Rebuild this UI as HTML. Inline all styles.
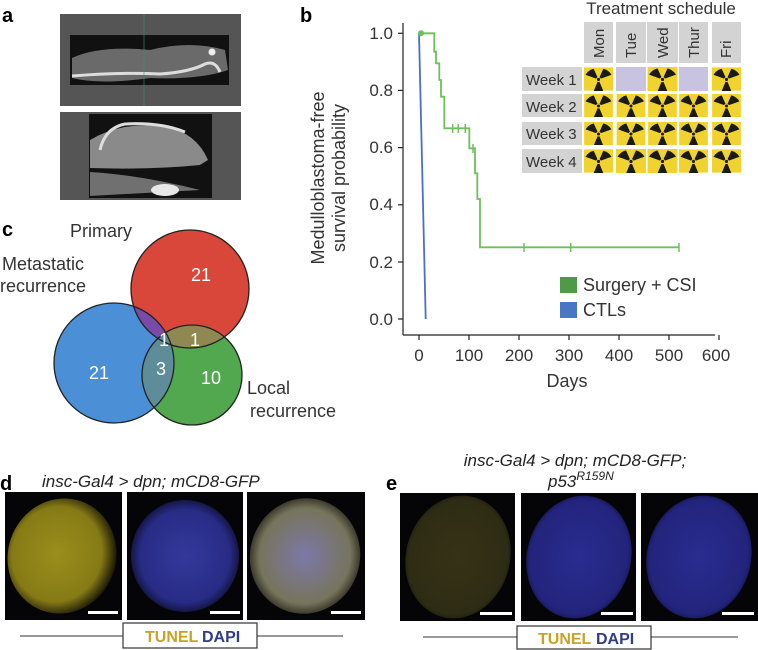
<!DOCTYPE html>
<html><head><meta charset="utf-8"><style>
html,body{margin:0;padding:0;background:#fff;}
svg{display:block;font-family:"Liberation Sans",Arial,sans-serif;}
</style></head><body>
<svg width="758" height="650" viewBox="0 0 758 650" xmlns="http://www.w3.org/2000/svg">
<defs>
<symbol id="rad" viewBox="0 0 30 24">
<rect width="30" height="24" fill="#f1d330"/>
<g transform="translate(15,12.5)" fill="#1a1a1a">
<path d="M0,0 L-13,-6 A14,14 0 0,1 -4,-11.5 Z" transform="rotate(-5)"/>
<path d="M0,0 L4,-11.5 A14,14 0 0,1 13,-6 Z" transform="rotate(5)"/>
<path d="M0,0 L-5,12 A13,13 0 0,0 5,12 Z"/>
<circle r="2.6" fill="#f1d330"/><circle r="1.6"/>
</g>
</symbol>
<clipPath id="cR"><circle cx="190" cy="289" r="59"/></clipPath>
<clipPath id="cB"><circle cx="114" cy="363" r="60"/></clipPath>
<clipPath id="cG"><circle cx="192" cy="375" r="50"/></clipPath>
<radialGradient id="gy" cx="45%" cy="50%" r="55%"><stop offset="0" stop-color="#9a8e1c"/><stop offset="0.75" stop-color="#867a16"/><stop offset="1" stop-color="#1a1806"/></radialGradient>
<radialGradient id="gb" cx="50%" cy="50%" r="55%"><stop offset="0" stop-color="#34389a"/><stop offset="0.75" stop-color="#282c86"/><stop offset="1" stop-color="#0a0a22"/></radialGradient>
<radialGradient id="gm" cx="50%" cy="50%" r="55%"><stop offset="0" stop-color="#7c78a8"/><stop offset="0.75" stop-color="#77745c"/><stop offset="1" stop-color="#1a1810"/></radialGradient>
<radialGradient id="gey" cx="50%" cy="50%" r="55%"><stop offset="0" stop-color="#363216"/><stop offset="0.85" stop-color="#2e2c14"/><stop offset="1" stop-color="#141408"/></radialGradient>
<radialGradient id="geb" cx="50%" cy="50%" r="55%"><stop offset="0" stop-color="#2a2c90"/><stop offset="0.85" stop-color="#22247c"/><stop offset="1" stop-color="#0c0c30"/></radialGradient>
</defs>

<!-- panel a -->
<text x="2" y="22" font-size="20" font-weight="bold">a</text>
<rect x="60" y="14" width="181" height="92" fill="#555"/>
<rect x="70" y="35" width="159" height="50" fill="#111"/>
<path d="M72,58 Q100,45 150,50 Q190,40 225,50 L228,70 Q200,80 150,78 Q100,85 72,78 Z" fill="#6a6a6a"/>
<path d="M72,76 Q120,72 160,74 Q190,72 205,64 Q215,60 220,72" stroke="#ddd" stroke-width="3" fill="none"/>
<circle cx="212" cy="52" r="3.5" fill="#eee"/>
<line x1="144" y1="14" x2="144" y2="106" stroke="#4a8a7a" stroke-width="0.6"/>
<rect x="60" y="112" width="181" height="88" fill="#555"/>
<rect x="89" y="114" width="123" height="84" fill="#111"/>
<path d="M90,140 Q120,122 160,126 Q195,130 208,160 L200,165 Q150,170 90,168 Z" fill="#8a8a8a"/>
<path d="M100,150 Q105,128 125,124 Q160,122 185,132" stroke="#ddd" stroke-width="3" fill="none"/>
<path d="M90,172 Q140,175 200,190 L90,196 Z" fill="#707070"/>
<ellipse cx="165" cy="190" rx="14" ry="6" fill="#e8e8e8"/>

<!-- panel b -->
<text x="300" y="22" font-size="20" font-weight="bold">b</text>
<g font-size="18" fill="#333" text-anchor="middle">
<text transform="translate(324,178) rotate(-90)">Medulloblastoma-free</text>
<text transform="translate(345,178) rotate(-90)">survival probability</text>
</g>
<g stroke="#222" stroke-width="1.2" fill="none">
<line x1="403" y1="23" x2="403" y2="335"/>
<line x1="403" y1="335" x2="715" y2="335"/>
<line x1="398" y1="33.3" x2="403" y2="33.3"/><line x1="398" y1="90.4" x2="403" y2="90.4"/>
<line x1="398" y1="147.6" x2="403" y2="147.6"/><line x1="398" y1="204.8" x2="403" y2="204.8"/>
<line x1="398" y1="262" x2="403" y2="262"/><line x1="398" y1="319" x2="403" y2="319"/>
<line x1="419" y1="335" x2="419" y2="340"/><line x1="469" y1="335" x2="469" y2="340"/>
<line x1="519" y1="335" x2="519" y2="340"/><line x1="569" y1="335" x2="569" y2="340"/>
<line x1="619" y1="335" x2="619" y2="340"/><line x1="669" y1="335" x2="669" y2="340"/>
<line x1="719" y1="335" x2="719" y2="340"/>
</g>
<g font-size="17" fill="#333" text-anchor="end">
<text x="393" y="39">1.0</text><text x="393" y="96">0.8</text><text x="393" y="153">0.6</text>
<text x="393" y="210">0.4</text><text x="393" y="268">0.2</text><text x="393" y="325">0.0</text>
</g>
<g font-size="17" fill="#333" text-anchor="middle">
<text x="419" y="361">0</text><text x="469" y="361">100</text><text x="519" y="361">200</text>
<text x="569" y="361">300</text><text x="619" y="361">400</text><text x="669" y="361">500</text>
<text x="716" y="361">600</text>
<text x="567" y="387" font-size="18">Days</text>
</g>
<path d="M419,33.3 L425.7,319" stroke="#4a6ed0" stroke-width="1.8" fill="none"/>
<path d="M419,33.3 H434.3 V51.7 H436 V63.3 H439.3 V80 H441 V96.7 H444.3 V128.3 H469.3 V148.3 H475 V173.3 H477.3 V199 H480 V247.3 H679" stroke="#6ec05a" stroke-width="1.8" fill="none"/>
<circle cx="421" cy="33.3" r="3" fill="#6ec05a"/>
<g stroke="#6ec05a" stroke-width="1.5">
<line x1="452.7" y1="124" x2="452.7" y2="133"/><line x1="458.3" y1="124" x2="458.3" y2="133"/><line x1="465.3" y1="124" x2="465.3" y2="133"/>
<line x1="473" y1="144" x2="473" y2="153"/>
<line x1="524" y1="243" x2="524" y2="252"/><line x1="570.7" y1="243" x2="570.7" y2="252"/><line x1="679" y1="243" x2="679" y2="252"/>
</g>
<rect x="560" y="277" width="17" height="16" fill="#4f9a47"/>
<rect x="560" y="302" width="17" height="16" fill="#4a74c4"/>
<text x="583" y="291" font-size="18" fill="#333">Surgery + CSI</text>
<text x="583" y="316" font-size="18" fill="#333">CTLs</text>

<!-- schedule -->
<text x="661" y="14" font-size="17" fill="#333" text-anchor="middle">Treatment schedule</text>
<g fill="#d3d3d3">
<rect x="584" y="22" width="29" height="41"/><rect x="616" y="22" width="30" height="41"/>
<rect x="647" y="22" width="31" height="41"/><rect x="679" y="22" width="29" height="41"/>
<rect x="712" y="22" width="29" height="41"/>
<rect x="522" y="67" width="60" height="24"/><rect x="522" y="94" width="60" height="23"/>
<rect x="522" y="122" width="60" height="23"/><rect x="522" y="149" width="60" height="24"/>
</g>
<g font-size="15" fill="#333">
<text transform="translate(604,58) rotate(-90)">Mon</text>
<text transform="translate(636,58) rotate(-90)">Tue</text>
<text transform="translate(668,58) rotate(-90)">Wed</text>
<text transform="translate(699,58) rotate(-90)">Thur</text>
<text transform="translate(731,58) rotate(-90)">Fri</text>
<text x="526" y="85">Week 1</text><text x="526" y="112">Week 2</text>
<text x="526" y="139">Week 3</text><text x="526" y="167">Week 4</text>
</g>
<use href="#rad" x="584" y="67" width="29" height="24"/>
<rect x="616" y="67" width="30" height="24" fill="#c9c3e2"/>
<use href="#rad" x="647" y="67" width="31" height="24"/>
<rect x="679" y="67" width="29" height="24" fill="#c9c3e2"/>
<use href="#rad" x="712" y="67" width="29" height="24"/>
<g>
<use href="#rad" x="584" y="94" width="29" height="23"/><use href="#rad" x="616" y="94" width="30" height="23"/><use href="#rad" x="647" y="94" width="31" height="23"/><use href="#rad" x="679" y="94" width="29" height="23"/><use href="#rad" x="712" y="94" width="29" height="23"/>
<use href="#rad" x="584" y="122" width="29" height="23"/><use href="#rad" x="616" y="122" width="30" height="23"/><use href="#rad" x="647" y="122" width="31" height="23"/><use href="#rad" x="679" y="122" width="29" height="23"/><use href="#rad" x="712" y="122" width="29" height="23"/>
<use href="#rad" x="584" y="149" width="29" height="24"/><use href="#rad" x="616" y="149" width="30" height="24"/><use href="#rad" x="647" y="149" width="31" height="24"/><use href="#rad" x="679" y="149" width="29" height="24"/><use href="#rad" x="712" y="149" width="29" height="24"/>
</g>

<!-- panel c -->
<text x="2" y="236" font-size="20" font-weight="bold">c</text>
<circle cx="190" cy="289" r="59" fill="#d9473b"/>
<circle cx="114" cy="363" r="60" fill="#4b8fd6"/>
<circle cx="192" cy="375" r="50" fill="#52a84e"/>
<circle cx="114" cy="363" r="60" fill="#7a4aa8" clip-path="url(#cR)"/>
<circle cx="192" cy="375" r="50" fill="#8f8850" clip-path="url(#cR)"/>
<circle cx="192" cy="375" r="50" fill="#5e8c98" clip-path="url(#cB)"/>
<g fill="none" stroke="#222" stroke-width="1.3">
<circle cx="190" cy="289" r="59"/><circle cx="114" cy="363" r="60"/><circle cx="192" cy="375" r="50"/>
</g>
<g font-size="18" fill="#fff" text-anchor="middle">
<text x="201" y="281">21</text><text x="99" y="379">21</text><text x="211" y="384">10</text>
<text x="161" y="375">3</text><text x="164" y="346">1</text><text x="195" y="346">1</text>
</g>
<g font-size="18" fill="#333">
<text x="70" y="237">Primary</text>
<text x="2" y="270">Metastatic</text><text x="0" y="292">recurrence</text>
<text x="247" y="394">Local</text><text x="250" y="417">recurrence</text>
</g>

<!-- panel d -->
<text x="0" y="490" font-size="20" font-weight="bold">d</text>
<text x="42" y="487" font-size="17" font-style="italic" fill="#222">insc-Gal4 &gt; dpn; mCD8-GFP</text>
<rect x="5" y="492" width="117" height="128" fill="#050508"/>
<ellipse cx="62" cy="556" rx="54" ry="58" fill="url(#gy)" transform="rotate(20 62 556)"/>
<rect x="88" y="611" width="30" height="3" fill="#fff"/>
<rect x="127" y="492" width="116" height="128" fill="#050508"/>
<ellipse cx="185" cy="556" rx="54" ry="56" fill="url(#gb)"/>
<rect x="210" y="611" width="30" height="3" fill="#fff"/>
<rect x="247" y="492" width="118" height="128" fill="#050508"/>
<ellipse cx="305" cy="556" rx="55" ry="58" fill="url(#gm)" transform="rotate(15 305 556)"/>
<rect x="331" y="611" width="30" height="3" fill="#fff"/>
<line x1="20" y1="636" x2="343" y2="636" stroke="#333" stroke-width="1"/>
<rect x="123" y="623" width="134" height="25" fill="#fff" stroke="#333" stroke-width="1.2"/>
<text x="145" y="642" font-size="16" font-weight="bold" fill="#c9a227">TUNEL</text>
<text x="202" y="642" font-size="16" font-weight="bold" fill="#2f3c8c">DAPI</text>

<!-- panel e -->
<text x="386" y="490" font-size="20" font-weight="bold">e</text>
<text x="575" y="466" font-size="17" font-style="italic" fill="#222" text-anchor="middle">insc-Gal4 &gt; dpn; mCD8-GFP;</text>
<text x="548" y="487" font-size="17" font-style="italic" fill="#222">p53<tspan font-size="12" dy="-7">R159N</tspan></text>
<rect x="400" y="493" width="115" height="128" fill="#050508"/>
<ellipse cx="458" cy="557" rx="52" ry="62" fill="url(#gey)" transform="rotate(15 458 557)"/>
<rect x="480" y="612" width="32" height="3" fill="#fff"/>
<rect x="521" y="493" width="115" height="128" fill="#050508"/>
<ellipse cx="579" cy="557" rx="52" ry="62" fill="url(#geb)" transform="rotate(15 579 557)"/>
<rect x="601" y="612" width="32" height="3" fill="#fff"/>
<rect x="641" y="493" width="117" height="128" fill="#050508"/>
<ellipse cx="699" cy="557" rx="52" ry="62" fill="url(#geb)" transform="rotate(15 699 557)"/>
<rect x="722" y="612" width="32" height="3" fill="#fff"/>
<line x1="423" y1="637" x2="738" y2="637" stroke="#333" stroke-width="1"/>
<rect x="517" y="626" width="134" height="23" fill="#fff" stroke="#333" stroke-width="1.2"/>
<text x="538" y="644" font-size="16" font-weight="bold" fill="#c9a227">TUNEL</text>
<text x="596" y="644" font-size="16" font-weight="bold" fill="#2f3c8c">DAPI</text>
</svg>
</body></html>
